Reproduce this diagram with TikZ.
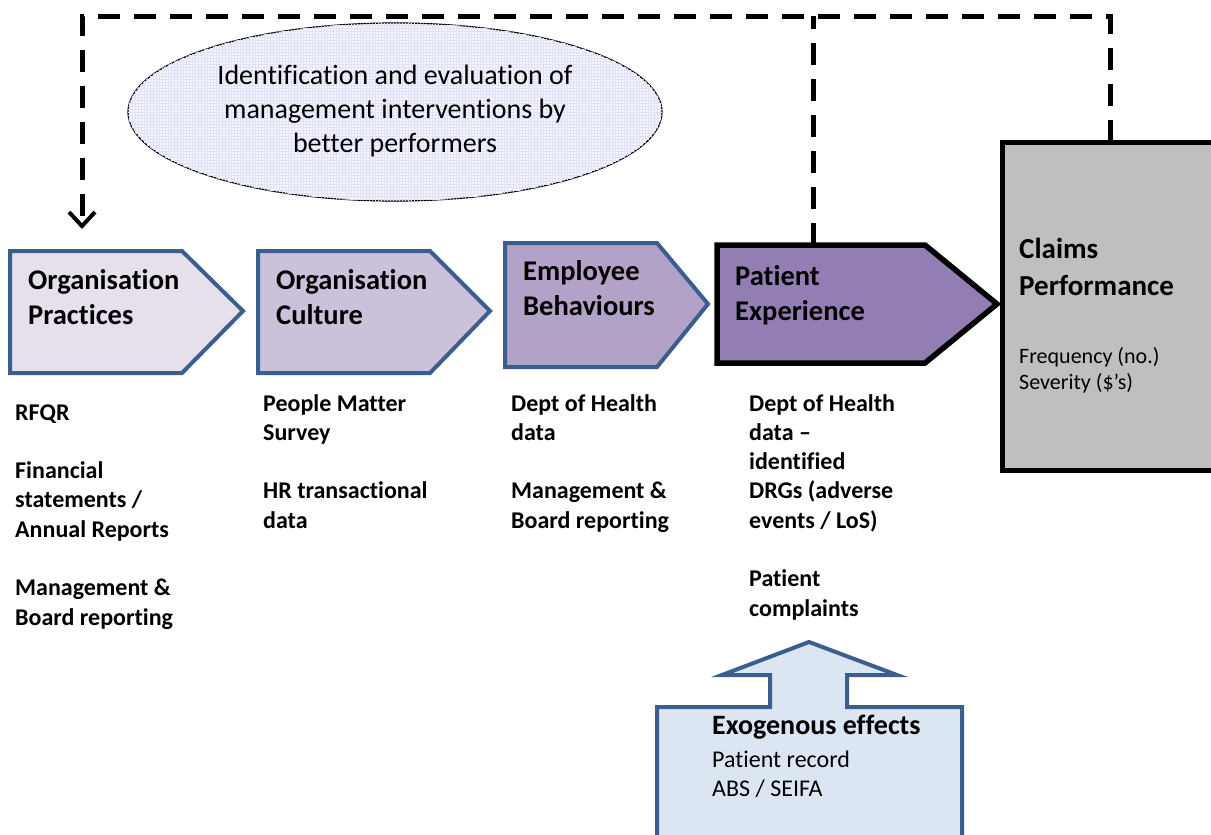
\documentclass[tikz,border=0pt]{standalone}
\usepackage{fontspec}
\setmainfont{Carlito}[RawFeature={-liga}]
\usetikzlibrary{arrows.meta,shapes.geometric,patterns}

\definecolor{edgeblue}{HTML}{3A5F8E}
\definecolor{fillA}{HTML}{E6E0EC}
\definecolor{fillB}{HTML}{CCC1DA}
\definecolor{fillC}{HTML}{B3A2C7}
\definecolor{fillD}{HTML}{937EB3}
\definecolor{claimgrey}{HTML}{BFBFBF}
\definecolor{exofill}{HTML}{DCE6F2}
\definecolor{ellbg}{HTML}{F5F5FD}
\definecolor{ellgrid}{HTML}{E2E2F6}

\newcommand{\stack}[2][l]{\begin{tabular}[t]{@{}#1@{}}#2\end{tabular}}

\begin{document}
\begin{tikzpicture}[x=1pt,y=-1pt,
  chevblue/.style={draw=edgeblue,line width=4pt,miter limit=10},
  chevblack/.style={draw=black,line width=5.5pt,miter limit=10},
  feedback/.style={draw=black,line width=5pt,dash pattern=on 22pt off 14pt},
  title/.style={anchor=base west,inner sep=0pt,font=\fontsize{28.5}{35}\selectfont\bfseries},
  listtext/.style={anchor=base west,inner sep=0pt,font=\fontsize{24}{29.3}\selectfont\bfseries},
  bodytext/.style={anchor=base west,inner sep=0pt,font=\fontsize{22}{26.5}\selectfont}]

\useasboundingbox (0,0) rectangle (1211,835);
\clip (0,0) rectangle (1211,835);

% idea bubble
\node[ellipse,draw=black,line width=1.2pt,fill=ellbg,
      postaction={pattern=grid,pattern color=ellgrid},
      minimum width=534pt,minimum height=178pt,inner sep=0pt] (idea) at (395,112) {};
\node[anchor=base,inner sep=0pt,font=\fontsize{28}{34}\selectfont] (ideatext) at (395,84)
  {\stack[c]{Identification and evaluation of\\management interventions by\\better performers}};

% chevrons of the causal chain
\path[chevblue,fill=fillA] (10,251) -- (182,251) -- (243,311) -- (182,373) -- (10,373) -- cycle;
\path[chevblue,fill=fillB] (258,251) -- (430,251) -- (490,311) -- (430,373) -- (258,373) -- cycle;
\path[chevblue,fill=fillC] (505,243) -- (657,243) -- (708,304) -- (657,367) -- (505,367) -- cycle;
\path[chevblack,fill=fillD] (717,245) -- (925,245) -- (997,304) -- (925,363) -- (717,363) -- cycle;

\node[title] (op) at (28,289) {\stack{Organisation\\Practices}};
\node[title] (oc) at (276,289) {\stack{Organisation\\Culture}};
\node[title] (eb) at (523,280) {\stack{Employee\\Behaviours}};
\node[title] (pe) at (735,285) {\stack{Patient\\Experience}};

% outcome box
\node[draw=black,line width=5pt,fill=claimgrey,outer sep=0pt,inner sep=0pt,
      minimum width=216pt,minimum height=328pt] (cp) at (1110,306) {};
\node[anchor=base west,inner sep=0pt,font=\fontsize{29}{37}\selectfont\bfseries] (cptitle) at (1019,258)
  {\stack{Claims\\Performance}};
\node[bodytext] (cpmeasures) at (1019,363) {\stack{Frequency (no.)\\Severity (\$’s)}};

% feedback loop
\coordinate (corner) at (82,16);
\coordinate (op-in) at (82,229);
\coordinate (pe-top) at (813,245);
\draw[feedback,-{Straight Barb[length=14pt,width=26pt,line width=4pt]}]
  (cp.north) |- (corner) -- (op-in);
\draw[feedback] (pe-top) -- (pe-top |- corner);

% data sources
\node[listtext] (src1) at (15,420)
  {\stack{RFQR\\ \\Financial\\statements /\\Annual Reports\\ \\Management \&\\Board reporting}};
\node[listtext] (src2) at (263,411)
  {\stack{People Matter\\Survey\\ \\HR transactional\\data}};
\node[listtext] (src3) at (511,411)
  {\stack{Dept of Health\\data\\ \\Management \&\\Board reporting}};
\node[listtext] (src4) at (749,411)
  {\stack{Dept of Health\\data –\\identified\\DRGs (adverse\\events / LoS)\\ \\Patient\\complaints}};

% exogenous influences
\path[draw=edgeblue,line width=4pt,fill=exofill,miter limit=10]
  (657,850) -- (657,707) -- (770,707) -- (770,675) -- (722,675) -- (809,642)
  -- (897,675) -- (847,675) -- (847,707) -- (962,707) -- (962,850);
\node[anchor=base west,inner sep=0pt,font=\fontsize{28}{33}\selectfont\bfseries] (exo) at (712,734)
  {Exogenous effects};
\node[anchor=base west,inner sep=0pt,font=\fontsize{24}{29}\selectfont] (exolist) at (712,767)
  {\stack{Patient record\\ABS / SEIFA}};
\end{tikzpicture}
\end{document}
